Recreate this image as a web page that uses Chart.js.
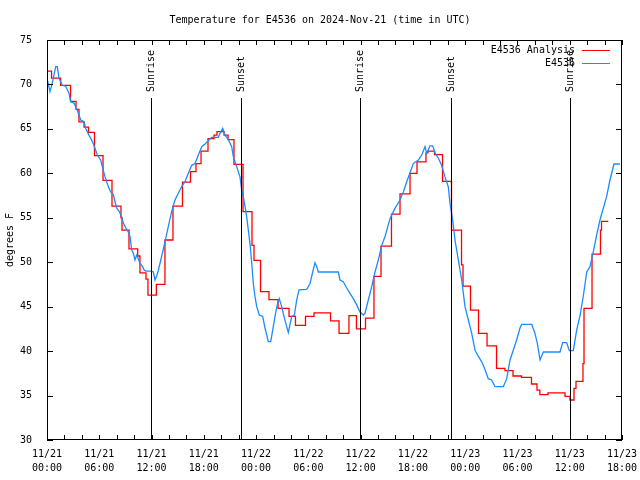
<!DOCTYPE html>
<html>
<head>
<meta charset="utf-8">
<script src="https://cdn.jsdelivr.net/npm/chart.js@4.4.0/dist/chart.umd.min.js"></script>
<style>
html, body { margin: 0; padding: 0; background: #fff; }
canvas { display: block; }
</style>
</head>
<body>
<canvas id="chart" width="640" height="480"></canvas>
<script>
// hours since 11/21 00:00 UTC
var titleText = "Temperature for E4536 on 2024-Nov-21 (time in UTC)";
var seriesNames = ["E4536 Analysis", "E4536"];

var xTickDates = ["11/21", "11/21", "11/21", "11/21", "11/22", "11/22", "11/22", "11/22", "11/23", "11/23", "11/23", "11/23"];
var xTickTimes = ["00:00", "06:00", "12:00", "18:00", "00:00", "06:00", "12:00", "18:00", "00:00", "06:00", "12:00", "18:00"];

var sunTimes = [11.97, 22.30, 35.98, 46.32, 60.00];
var sunLabels = ["Sunrise", "Sunset", "Sunrise", "Sunset", "Sunrise"];

// analysis (stepped values)
var redTimes = [0, 0.52, 1.57, 2.70, 3.33, 3.67, 4.25, 4.76, 5.45, 6.43,
  7.46, 8.49, 8.61, 9.41, 10.41, 10.67, 11.36, 11.59, 12.55, 13.54,
  14.46, 15.55, 16.47, 17.10, 17.68, 18.48, 19.17, 19.51, 20.32, 20.78,
  21.46, 22.50, 23.53, 23.76, 24.51, 25.48, 26.52, 27.78, 28.52, 29.67,
  30.65, 32.54, 33.52, 34.66, 35.52, 36.56, 37.53, 38.34, 39.54, 40.52,
  41.67, 42.47, 43.50, 43.73, 44.48, 45.40, 46.43, 47.58, 47.75, 48.61,
  49.53, 50.51, 51.60, 52.57, 53.49, 54.46, 55.61, 56.24, 56.57, 57.50,
  59.46, 60.03, 60.49, 60.72, 61.52, 61.64, 62.56, 63.53, 63.65, 64.43];
var redTemps = [71.5, 70.7, 69.9, 68.1, 67.2, 65.8, 65.2, 64.6, 62.0, 59.2,
  56.3, 55.0, 53.6, 51.5, 50.7, 48.8, 48.1, 46.3, 47.5, 52.5,
  56.3, 59.0, 60.2, 61.1, 62.5, 63.9, 64.3, 64.7, 64.3, 63.8,
  61.0, 55.7, 51.9, 50.2, 46.7, 45.8, 44.8, 43.9, 42.9, 43.9,
  44.3, 43.4, 42.0, 44.0, 42.5, 43.7, 48.4, 51.8, 55.4, 57.7,
  60.0, 61.3, 62.3, 62.5, 62.1, 59.1, 53.6, 49.7, 47.3, 44.6,
  42.0, 40.6, 38.05, 37.8, 37.2, 37.05, 36.3, 35.6, 35.1, 35.3,
  34.9, 34.5, 35.8, 36.6, 38.6, 44.8, 50.9, 53.6, 54.6, 54.6];

// station observations
var blueTimes = [0, 0.34, 0.57, 1.00, 1.18, 1.38, 1.76, 2.15, 2.53, 2.72,
  3.10, 3.48, 3.87, 4.25, 4.44, 4.82, 5.20, 5.59, 5.77, 6.16,
  6.35, 6.66, 7.04, 7.31, 7.61, 7.81, 8.00, 8.30, 8.57, 8.76,
  9.07, 9.33, 9.53, 9.72, 9.91, 10.10, 10.30, 10.48, 10.67, 10.98,
  11.17, 11.36, 12.02, 12.20, 12.40, 12.59, 12.78, 13.17, 13.54, 13.92,
  14.31, 14.69, 15.07, 15.46, 15.84, 16.22, 16.61, 16.99, 17.37, 17.76,
  18.14, 18.90, 19.66, 19.86, 20.17, 20.43, 20.81, 21.20, 21.38, 21.77,
  22.15, 22.35, 22.53, 22.73, 22.92, 23.11, 23.30, 23.50, 23.68, 23.88,
  24.07, 24.37, 24.76, 25.02, 25.22, 25.40, 25.68, 25.91, 26.17, 26.43,
  26.66, 26.94, 27.20, 27.51, 27.70, 28.09, 28.39, 28.66, 28.93, 29.81,
  30.19, 30.50, 30.76, 30.96, 31.14, 33.44, 33.63, 34.01, 34.40, 34.78,
  35.16, 35.55, 35.93, 36.31, 36.50, 36.88, 37.27, 37.65, 38.03, 38.42,
  38.80, 39.37, 39.94, 40.52, 40.90, 41.29, 41.67, 42.04, 42.62, 43.01,
  43.39, 43.58, 43.96, 44.27, 44.54, 44.92, 45.30, 45.68, 46.06, 46.26,
  46.57, 46.83, 47.21, 47.60, 47.98, 48.36, 48.75, 49.13, 49.51, 49.90,
  50.28, 50.65, 51.04, 51.42, 52.38, 52.77, 53.15, 53.52, 53.91, 54.29,
  54.49, 55.64, 56.01, 56.28, 56.59, 56.97, 58.88, 59.19, 59.65, 59.95,
  60.41, 60.80, 61.18, 61.56, 61.95, 62.33, 62.71, 63.10, 63.47, 63.86,
  64.24, 64.62, 65.08, 65.77];
var blueTemps = [70.7, 69.2, 70.0, 72.0, 72.0, 70.7, 69.9, 69.8, 69.0, 68.05,
  67.9, 67.1, 66.0, 65.8, 65.05, 64.3, 63.6, 62.6, 62.06, 61.5,
  60.75, 59.6, 58.5, 57.9, 57.6, 56.8, 56.1, 55.7, 55.1, 54.4,
  53.8, 53.4, 52.9, 51.4, 51.0, 50.25, 50.8, 50.4, 49.9, 49.5,
  49.1, 49.0, 49.0, 48.9, 48.0, 48.45, 49.1, 50.7, 52.3, 54.0,
  55.7, 57.0, 57.75, 58.5, 59.05, 60.0, 60.9, 61.1, 62.06, 63.0,
  63.3, 64.05, 64.05, 64.5, 65.05, 64.3, 63.8, 63.0, 61.9, 60.75,
  59.6, 58.1, 57.4, 56.25, 55.1, 53.6, 52.1, 49.9, 47.6, 46.1,
  45.0, 44.06, 43.9, 42.6, 41.8, 41.06, 41.06, 42.4, 43.9, 45.2,
  45.9, 45.0, 43.9, 42.75, 42.1, 43.9, 44.06, 45.75, 46.9, 46.95,
  47.6, 48.9, 49.95, 49.5, 48.9, 48.9, 48.0, 47.8, 47.1, 46.5,
  45.9, 45.2, 44.4, 44.06, 44.25, 45.75, 47.25, 48.9, 50.25, 51.9,
  52.9, 54.9, 56.06, 57.0, 57.9, 59.05, 60.07, 61.1, 61.5, 62.06,
  63.0, 62.25, 63.1, 63.1, 62.3, 61.7, 60.9, 59.6, 58.5, 56.6,
  54.75, 52.5, 50.3, 48.0, 45.0, 43.5, 42.0, 40.1, 39.4, 38.8,
  37.9, 36.9, 36.75, 36.0, 36.0, 36.9, 39.0, 40.1, 41.25, 42.6,
  43.0, 43.0, 42.0, 40.9, 39.0, 39.9, 39.9, 40.95, 40.95, 40.05,
  40.05, 42.4, 44.0, 46.2, 48.9, 49.5, 51.2, 53.1, 54.75, 56.1,
  57.4, 59.25, 61.05, 61.05];

var FONT = '"DejaVu Sans Mono", "Liberation Mono", monospace';

function pts(xs, ys) {
  var out = [];
  for (var i = 0; i < xs.length; i++) out.push({ x: xs[i], y: ys[i] });
  return out;
}

// gnuplot-ish frame with inward ticks on all sides
var framePlugin = {
  id: 'frame',
  beforeDraw: function (chart) {
    var ctx = chart.ctx;
    ctx.save();
    ctx.fillStyle = '#fff';
    ctx.fillRect(0, 0, chart.width, chart.height);
    ctx.restore();
  },
  afterDraw: function (chart) {
    var ctx = chart.ctx, a = chart.chartArea;
    var sx = chart.scales.x, sy = chart.scales.y;
    ctx.save();
    ctx.strokeStyle = '#000';
    ctx.lineWidth = 1;
    ctx.strokeRect(Math.round(a.left) + 0.5, Math.round(a.top) + 0.5,
      Math.round(a.right - a.left) - 1, Math.round(a.bottom - a.top) - 1);
    ctx.beginPath();
    for (var v = 30; v <= 75; v += 5) {
      var y = Math.round(sy.getPixelForValue(v)) + 0.5;
      ctx.moveTo(a.left, y); ctx.lineTo(a.left + 6, y);
      ctx.moveTo(a.right - 6, y); ctx.lineTo(a.right, y);
    }
    for (var h = 0; h <= 66; h += 2) {
      var x = Math.round(sx.getPixelForValue(h)) + 0.5;
      ctx.moveTo(x, a.bottom); ctx.lineTo(x, a.bottom - 5);
      ctx.moveTo(x, a.top); ctx.lineTo(x, a.top + 5);
    }
    ctx.stroke();

    // title
    ctx.fillStyle = '#000';
    ctx.font = '10px ' + FONT;
    ctx.textAlign = 'center';
    ctx.textBaseline = 'middle';
    ctx.fillText(titleText, 320, 20);

    // legend, top right inside the frame
    var ds = chart.data.datasets;
    ctx.textAlign = 'right';
    for (var i = 0; i < ds.length; i++) {
      var ly = 50 + i * 13;
      ctx.fillStyle = '#000';
      ctx.fillText(ds[i].label, 575, ly);
      ctx.strokeStyle = ds[i].borderColor;
      ctx.beginPath();
      ctx.moveTo(582, Math.round(ly) + 0.5);
      ctx.lineTo(610, Math.round(ly) + 0.5);
      ctx.stroke();
    }
    ctx.restore();
  }
};

var sunPlugin = {
  id: 'sun',
  afterDatasetsDraw: function (chart) {
    var ctx = chart.ctx, a = chart.chartArea, sx = chart.scales.x;
    ctx.save();
    ctx.strokeStyle = '#000';
    ctx.fillStyle = '#000';
    ctx.lineWidth = 1;
    ctx.font = '10px ' + FONT;
    for (var i = 0; i < sunTimes.length; i++) {
      var x = Math.round(sx.getPixelForValue(sunTimes[i])) + 0.5;
      ctx.beginPath();
      ctx.moveTo(x, a.top + 58);
      ctx.lineTo(x, a.bottom);
      ctx.stroke();
      ctx.save();
      ctx.translate(x, a.top + 52);
      ctx.rotate(-Math.PI / 2);
      ctx.textAlign = 'left';
      ctx.textBaseline = 'middle';
      ctx.fillText(sunLabels[i], 0, 0);
      ctx.restore();
    }
    ctx.restore();
  }
};

new Chart(document.getElementById('chart'), {
  type: 'line',
  data: {
    datasets: [
      {
        label: seriesNames[0],
        data: pts(redTimes, redTemps),
        borderColor: '#ff0000',
        borderWidth: 1.3,
        pointRadius: 0,
        stepped: 'before',
        fill: false,
        order: 1
      },
      {
        label: seriesNames[1],
        data: pts(blueTimes, blueTemps),
        borderColor: '#1a8cff',
        borderWidth: 1.3,
        pointRadius: 0,
        tension: 0,
        fill: false,
        order: 0
      }
    ]
  },
  options: {
    responsive: false,
    animation: false,
    layout: { padding: { top: 40, right: 18, left: 0, bottom: 0 } },
    plugins: {
      legend: { display: false },
      title: { display: false },
      tooltip: { enabled: false }
    },
    scales: {
      x: {
        type: 'linear',
        min: 0,
        max: 66,
        grid: { display: false },
        border: { display: false },
        ticks: {
          stepSize: 6,
          autoSkip: false,
          maxRotation: 0,
          padding: 0,
          color: '#000',
          font: { family: FONT, size: 10, lineHeight: 1.35 },
          callback: function (v, i) { return [xTickDates[i], xTickTimes[i]]; }
        },
        afterFit: function (s) {
          s.height = 40;
          s.paddingLeft = 0;
          s.paddingRight = 0;
        }
      },
      y: {
        min: 30,
        max: 75,
        grid: { display: false },
        border: { display: false },
        title: {
          display: true,
          text: 'degrees F',
          color: '#000',
          font: { family: FONT, size: 10 },
          padding: { top: 4, bottom: 0 }
        },
        ticks: {
          stepSize: 5,
          padding: 7,
          color: '#000',
          font: { family: FONT, size: 10 }
        },
        afterFit: function (s) { s.width = 47; }
      }
    }
  },
  plugins: [framePlugin, sunPlugin]
});
</script>
</body>
</html>
